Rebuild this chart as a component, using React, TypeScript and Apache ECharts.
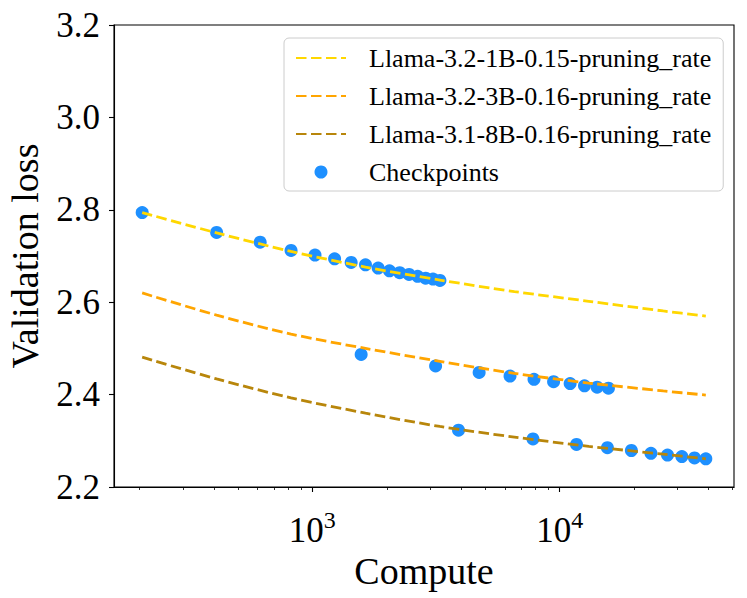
import React, { useEffect, useRef } from "react";
import * as echarts from "echarts";

// Compute (x, log scale) range shown on the axis
const xMin = 157.7;
const xMax = 50700;

// Checkpoint measurements per model
const compute1B = [205, 410, 615, 820, 1025, 1230, 1435, 1640, 1845, 2050, 2255, 2460, 2665, 2870, 3075, 3280];
const loss1B = [2.794, 2.751, 2.73, 2.712, 2.702, 2.694, 2.686, 2.681, 2.674, 2.668, 2.664, 2.66, 2.656, 2.652, 2.65, 2.647];
const compute3B = [1575, 3150, 4725, 6300, 7875, 9450, 11025, 12600, 14175, 15750];
const loss3B = [2.487, 2.462, 2.448, 2.44, 2.433, 2.428, 2.424, 2.419, 2.416, 2.414];
const compute8B = [3900, 7800, 11700, 15600, 19500, 23400, 27300, 31200, 35100, 39000];
const loss8B = [2.323, 2.304, 2.292, 2.285, 2.279, 2.273, 2.269, 2.266, 2.263, 2.261];

// Fitted loss curves, sampled along compute
const fitCompute = [205, 410, 820, 1640, 3280, 6560, 13120, 26240, 39000];
const fit1B = [2.794, 2.75, 2.71, 2.676, 2.648, 2.623, 2.602, 2.581, 2.57];
const fit3B = [2.62, 2.572, 2.531, 2.5, 2.472, 2.446, 2.425, 2.408, 2.399];
const fit8B = [2.481, 2.434, 2.393, 2.36, 2.331, 2.308, 2.288, 2.271, 2.261];

const curveNames = [
  "Llama-3.2-1B-0.15-pruning_rate",
  "Llama-3.2-3B-0.16-pruning_rate",
  "Llama-3.1-8B-0.16-pruning_rate",
];
const curveColors = ["#FFD700", "#FFA500", "#B8860B"];
const checkpointName = "Checkpoints";

// Axis ticks
const majorTicks = [1000, 10000];
const minorTicks = [200, 300, 400, 500, 600, 700, 800, 900, 2000, 3000, 4000, 5000, 6000, 7000, 8000, 9000, 20000, 30000, 40000, 50000];

const FONT = "'Liberation Serif', 'Times New Roman', serif";

const zip = (xs: number[], ys: number[]) => xs.map((x, i) => [x, ys[i]]);

export default function App() {
  const ref = useRef<HTMLDivElement>(null);

  useEffect(() => {
    if (!ref.current) return;
    const chart = echarts.init(ref.current, undefined, { renderer: "svg" });
    const fits = [fit1B, fit3B, fit8B];

    const lineSeries = fits.map((ys, i) => ({
      name: curveNames[i],
      type: "line",
      xAxisIndex: 0,
      data: zip(fitCompute, ys),
      smooth: 0.3,
      showSymbol: false,
      symbol: "none",
      z: 3,
      lineStyle: { color: curveColors[i], width: 2.8, type: [10.5, 4.5] },
      itemStyle: { color: curveColors[i] },
    }));

    const checkpoints = [
      ...zip(compute1B, loss1B),
      ...zip(compute3B, loss3B),
      ...zip(compute8B, loss8B),
    ];

    chart.setOption({
      animation: false,
      backgroundColor: "#fff",
      textStyle: { fontFamily: FONT },
      grid: {
        left: 114,
        top: 25,
        right: 13,
        bottom: 111,
        containLabel: false,
        outerBoundsMode: "none",
        show: true,
        borderColor: "#000",
        borderWidth: 1.1,
      },
      legend: {
        orient: "vertical",
        left: 284,
        top: 38,
        data: [
          ...curveNames.map((name) => ({ name, itemStyle: { opacity: 0 } })),
          { name: checkpointName },
        ],
        itemWidth: 50,
        itemHeight: 13,
        itemGap: 8,
        padding: [5, 12, 4, 11],
        backgroundColor: "rgba(255,255,255,0.8)",
        borderColor: "#cccccc",
        borderWidth: 1,
        borderRadius: 5,
        textStyle: {
          fontFamily: FONT,
          fontSize: 26,
          color: "#000",
          lineHeight: 30,
          padding: [0, 0, 0, 18],
        },
      },
      xAxis: [
        {
          type: "log",
          logBase: 10,
          min: xMin,
          max: xMax,
          name: "Compute",
          nameLocation: "middle",
          nameGap: 58,
          nameTextStyle: { fontFamily: FONT, fontSize: 38, color: "#000" },
          axisLine: { show: true, lineStyle: { color: "#000", width: 1.1 } },
          axisTick: { show: true, length: 5, customValues: majorTicks, lineStyle: { color: "#000", width: 1.1 } },
          splitLine: { show: false },
          axisLabel: {
            customValues: majorTicks,
            margin: 21,
            formatter: (v: number) => `{b|10}{s|${Math.round(Math.log10(v))}}`,
            rich: {
              b: { fontFamily: FONT, fontSize: 35, color: "#000" },
              s: { fontFamily: FONT, fontSize: 24, color: "#000", verticalAlign: "top", padding: [0, 0, 20, 0] },
            },
          },
        },
        {
          type: "log",
          logBase: 10,
          min: xMin,
          max: xMax,
          position: "bottom",
          axisLine: { show: false },
          axisTick: { show: true, length: 3, customValues: minorTicks, lineStyle: { color: "#000", width: 0.8 } },
          axisLabel: { show: false },
          splitLine: { show: false },
        },
      ],
      yAxis: {
        type: "value",
        min: 2.2,
        max: 3.2,
        interval: 0.2,
        name: "Validation loss",
        nameLocation: "middle",
        nameGap: 70,
        nameTextStyle: { fontFamily: FONT, fontSize: 38, color: "#000" },
        axisLine: { show: true, lineStyle: { color: "#000", width: 1.1 } },
        axisTick: { show: true, length: 5, lineStyle: { color: "#000", width: 1.1 } },
        splitLine: { show: false },
        axisLabel: {
          margin: 14,
          fontFamily: FONT,
          fontSize: 35,
          color: "#000",
          formatter: (v: number) => v.toFixed(1),
        },
      },
      series: [
        {
          name: checkpointName,
          type: "scatter",
          xAxisIndex: 0,
          data: checkpoints,
          symbol: "circle",
          symbolSize: 13,
          z: 2,
          itemStyle: { color: "#1E90FF", opacity: 1 },
        },
        ...lineSeries,
      ],
    });

    return () => chart.dispose();
  }, []);

  return (
    <div
      ref={ref}
      style={{ position: "fixed", left: 0, top: 0, width: 747, height: 598 }}
    />
  );
}
